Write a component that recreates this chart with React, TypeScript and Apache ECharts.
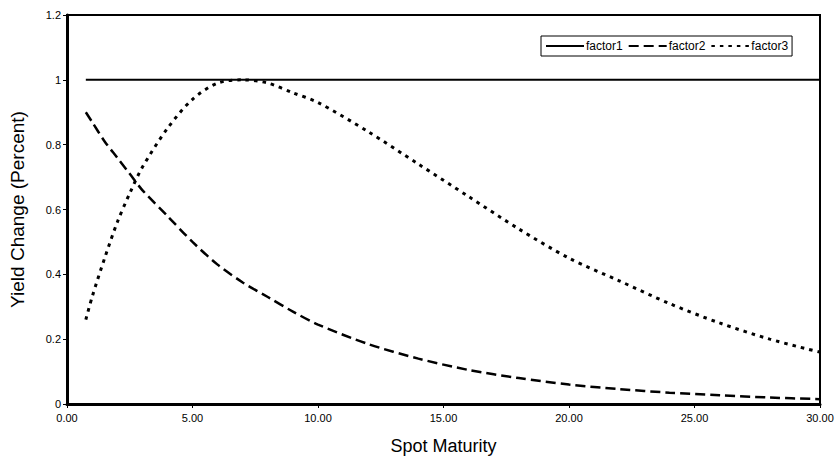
import React, { useEffect, useRef } from "react";
import * as echarts from "echarts";

const maturities = [0.75, 1, 1.5, 2, 2.5, 3, 4, 5, 6, 7, 8, 9, 10, 12, 14, 16, 18, 20, 22, 24, 26, 28, 30];
const factor1 = [1, 1, 1, 1, 1, 1, 1, 1, 1, 1, 1, 1, 1, 1, 1, 1, 1, 1, 1, 1, 1, 1, 1];
const factor2 = [0.9, 0.87, 0.81, 0.76, 0.71, 0.66, 0.58, 0.5, 0.43, 0.375, 0.33, 0.285, 0.245, 0.185, 0.14, 0.105, 0.08, 0.06, 0.046, 0.035, 0.027, 0.02, 0.015];
const factor3 = [0.26, 0.33, 0.45, 0.56, 0.65, 0.73, 0.85, 0.94, 0.99, 1.0, 0.99, 0.96, 0.93, 0.84, 0.74, 0.64, 0.54, 0.45, 0.38, 0.31, 0.25, 0.2, 0.16];
const seriesNames = ["factor1", "factor2", "factor3"];

const pairs = (ys: number[]) => maturities.map((x, i) => [x, ys[i]]);

export default function App() {
  const ref = useRef<HTMLDivElement>(null);
  useEffect(() => {
    const chart = echarts.init(ref.current!, null, { renderer: "svg" });
    const font = "Arial, 'Liberation Sans', Helvetica, sans-serif";
    chart.setOption({
      animation: false,
      backgroundColor: "#ffffff",
      grid: {
        left: 64,
        right: 19,
        top: 15,
        bottom: 54,
        show: true,
        borderColor: "#000",
        borderWidth: 2,
      },
      legend: {
        data: seriesNames,
        left: 541,
        top: 36,
        orient: "horizontal",
        itemWidth: 38,
        itemHeight: 12,
        itemGap: 5,
        padding: [4, 4, 4, 4],
        borderColor: "#000",
        borderWidth: 1,
        backgroundColor: "#fff",
        borderRadius: 0,
        itemStyle: { opacity: 0 },
        textStyle: { fontFamily: font, fontSize: 12, color: "#000", padding: [0, 0, 0, -3] },
      },
      xAxis: {
        type: "value",
        min: 0,
        max: 30,
        interval: 5,
        name: "Spot Maturity",
        nameLocation: "middle",
        nameGap: 33,
        nameTextStyle: { fontFamily: font, fontSize: 18, color: "#000" },
        axisLine: { show: true, lineStyle: { color: "#000", width: 3 } },
        axisTick: { show: true, inside: false, length: 4, lineStyle: { color: "#000", width: 1 } },
        axisLabel: {
          fontFamily: font,
          fontSize: 11,
          color: "#000",
          margin: 8,
          formatter: (v: number) => v.toFixed(2),
        },
        splitLine: { show: false },
      },
      yAxis: {
        type: "value",
        min: 0,
        max: 1.2,
        interval: 0.2,
        name: "Yield Change (Percent)",
        nameLocation: "middle",
        nameRotate: 90,
        nameGap: 40,
        nameTextStyle: { fontFamily: font, fontSize: 19, color: "#000" },
        axisLine: { show: true, lineStyle: { color: "#000", width: 3 } },
        axisTick: { show: true, inside: false, length: 4, lineStyle: { color: "#000", width: 1 } },
        axisLabel: {
          fontFamily: font,
          fontSize: 11,
          color: "#000",
          margin: 6,
          formatter: (v: number) => String(parseFloat(v.toFixed(1))),
        },
        splitLine: { show: false },
      },
      series: [
        {
          name: seriesNames[0],
          type: "line",
          symbol: "none",
          data: pairs(factor1),
          lineStyle: { color: "#000", width: 2, type: "solid" },
          itemStyle: { color: "#000" },
        },
        {
          name: seriesNames[1],
          type: "line",
          symbol: "none",
          smooth: 0.3,
          data: pairs(factor2),
          lineStyle: { color: "#000", width: 2.5, type: [10, 5] },
          itemStyle: { color: "#000" },
        },
        {
          name: seriesNames[2],
          type: "line",
          symbol: "none",
          smooth: 0.3,
          data: pairs(factor3),
          lineStyle: { color: "#000", width: 3, type: [3.5, 5] },
          itemStyle: { color: "#000" },
        },
      ],
    });
    return () => chart.dispose();
  }, []);
  return <div ref={ref} style={{ width: 839, height: 460, position: "absolute", left: 0, top: 0 }} />;
}
